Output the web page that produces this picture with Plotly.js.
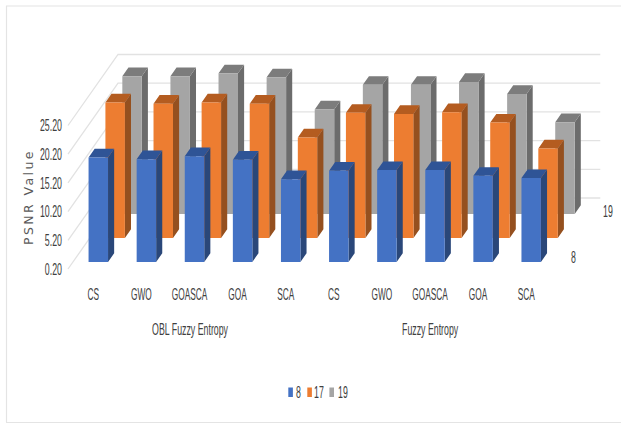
<!DOCTYPE html>
<html>
<head>
<meta charset="utf-8">
<script src="https://cdn.plot.ly/plotly-3.0.1.min.js"></script>
<style>html,body{margin:0;padding:0;background:#fff}</style>
</head>
<body>
<div id="chart" style="width:621px;height:424px"></div>
<script>
// PSNR by optimiser and threshold level
const categories = ['CS','GWO','GOASCA','GOA','SCA','CS','GWO','GOASCA','GOA','SCA'];
const groups = ['OBL Fuzzy Entropy','Fuzzy Entropy'];
const level8  = [18.4,18.1,18.6,18.0,14.6,16.1,16.2,16.2,15.2,14.8];
const level17 = [23.8,23.6,23.8,23.6,17.7,22.0,21.8,22.1,20.3,15.8];
const level19 = [24.2,24.2,24.7,24.0,18.4,22.7,22.7,23.2,21.1,16.2];
const yTicks  = [0.2,5.2,10.2,15.2,20.2,25.2];

// Oblique projection of (category, value, depth) onto the flat axes
const BASE = 0.2, KX = 1.04, KY = 12.37, BAR_W = 0.405, BAR_D = 0.122;
const proj = (c, v, d) => [c + d * KX, v + d * KY];

function facePolys(values, depth, face) {
  const xs = [], ys = [];
  values.forEach((v, i) => {
    const l = i - BAR_W / 2, r = i + BAR_W / 2, d0 = depth, d1 = depth + BAR_D;
    let pts;
    if (face === 'front') pts = [[l,BASE,d0],[r,BASE,d0],[r,v,d0],[l,v,d0]];
    if (face === 'side')  pts = [[r,BASE,d0],[r,BASE,d1],[r,v,d1],[r,v,d0]];
    if (face === 'top')   pts = [[l,v,d0],[r,v,d0],[r,v,d1],[l,v,d1]];
    pts.concat([pts[0]]).forEach(p => {
      const q = proj(p[0], p[1], p[2]);
      xs.push(q[0]); ys.push(q[1]);
    });
    xs.push(null); ys.push(null);
  });
  return {xs, ys};
}

function faceTrace(values, depth, face, color) {
  const g = facePolys(values, depth, face);
  return {type:'scatter', mode:'lines', x:g.xs, y:g.ys, fill:'toself', fillcolor:color,
          line:{width:0, color:color}, hoverinfo:'skip', showlegend:false, cliponaxis:false};
}

// Wall gridlines: left wall runs into the depth, back wall runs across
const WALL_L = -0.526, WALL_R = 9.5;
const gx = [], gy = [];
yTicks.forEach(t => {
  [[WALL_L,t,0],[WALL_L,t,1],[WALL_R,t,1]].forEach(p => {
    const q = proj(p[0], p[1], p[2]);
    gx.push(q[0]); gy.push(q[1]);
  });
  gx.push(null); gy.push(null);
});
const grid = {type:'scatter', mode:'lines', x:gx, y:gy, line:{color:'#e2e2e2', width:1.3},
              hoverinfo:'skip', showlegend:false, cliponaxis:false};

const rows = [
  {values:level19, depth:0.775, front:'#a5a5a5', side:'#6c6c6c', top:'#7c7c7c'},
  {values:level17, depth:0.437, front:'#ed7d31', side:'#95501f', top:'#b45c20'},
  {values:level8,  depth:0.100, front:'#4472c4', side:'#2a4779', top:'#2f5496'}
];
const traces = [grid];
rows.forEach(r => {
  traces.push(faceTrace(r.values, r.depth, 'side', r.side));
  traces.push(faceTrace(r.values, r.depth, 'top', r.top));
  traces.push(faceTrace(r.values, r.depth, 'front', r.front));
});

const tickFont = {family:'"Liberation Sans",sans-serif', size:16, color:'#404040'};

const ann = (text, x, y, xref, yref) => ({
  text, x, y, xref, yref, showarrow:false, font:tickFont, xanchor:'center', yanchor:'middle'
});

const W = 621, H = 424, ML = 63, MB = 30;
const px = x => (x - ML) / (W - ML);
const py = y => 1 - y / (H - MB);

// Key: swatch left edge, label centre
const key = [['8','#4472c4',288.3,298],['17','#ed7d31',307.3,319],['19','#a5a5a5',329.4,343]];

const annotations = [
  ann(groups[0], 2, py(329), 'x', 'paper'),
  ann(groups[1], 7, py(329), 'x', 'paper'),
  ann('8', ...proj(9.87, 0.9, 0.1), 'x', 'y'),
  ann('19', ...proj(9.9, 0.7, 0.775), 'x', 'y')
];
const shapes = [];
key.forEach(k => {
  shapes.push({type:'rect', xref:'paper', yref:'paper', x0:px(k[2]), x1:px(k[2]+4.6),
               y0:py(397), y1:py(387.5), fillcolor:k[1], line:{width:0}});
  annotations.push(ann(k[0], px(k[3]), py(392), 'paper', 'paper'));
});

// Thin frame around the chart area
const frame = '#e4e4e4';
[[6.5,6,6.5,422],[6,6,621,6],[6,422.5,621,422.5]].forEach(s => {
  shapes.push({type:'line', xref:'paper', yref:'paper', x0:px(s[0]), y0:py(s[1]), x1:px(s[2]), y1:py(s[3]),
               line:{color:frame, width:1.2}});
});

const layout = {
  width:W, height:H, margin:{l:ML, r:0, t:0, b:MB}, showlegend:false,
  paper_bgcolor:'#fff', plot_bgcolor:'#fff', font:tickFont,
  xaxis:{range:[(ML-93.3)/48.1, (W-93.3)/48.1], tickmode:'array',
         tickvals:categories.map((c,i)=>i), ticktext:categories, tickfont:tickFont, tickangle:0,
         anchor:'free', position:(H-MB-283)/(H-MB), showgrid:false, zeroline:false, showline:false, ticks:''},
  yaxis:{range:[0.2-(H-MB-269)/5.74, 0.2+269/5.74], tickmode:'array', tickvals:yTicks,
         tickformat:'.2f', tickfont:tickFont, showgrid:false, zeroline:false, showline:false, ticks:'',
         title:{text:'PSNR Value', font:{family:'"DejaVu Sans",sans-serif', size:12.5, color:'#595959'}, standoff:6}},
  shapes, annotations
};

// The labels are set in a condensed cut: scale each one horizontally about its own anchor
function squeeze(selector, factor) {
  document.querySelectorAll(selector).forEach(t => {
    const x = +t.getAttribute('x') || 0;
    const prior = t.getAttribute('transform') || '';
    t.setAttribute('transform', prior + ' translate(' + x + ',0) scale(' + factor + ',1) translate(' + (-x) + ',0)');
  });
}
function condense() {
  squeeze('#chart .xtick text', 0.52);
  squeeze('#chart .ytick text, #chart .annotation-text', 0.55);
  const title = document.querySelector('#chart .ytitle');
  if (title) {
    title.style.letterSpacing = '2.4px';
    const x = +title.getAttribute('x');
    title.setAttribute('transform', 'translate(' + (33 - x) + ',0) ' + (title.getAttribute('transform') || ''));
  }
}

Plotly.newPlot('chart', traces, layout, {displayModeBar:false, staticPlot:true}).then(condense);
</script>
</body>
</html>
